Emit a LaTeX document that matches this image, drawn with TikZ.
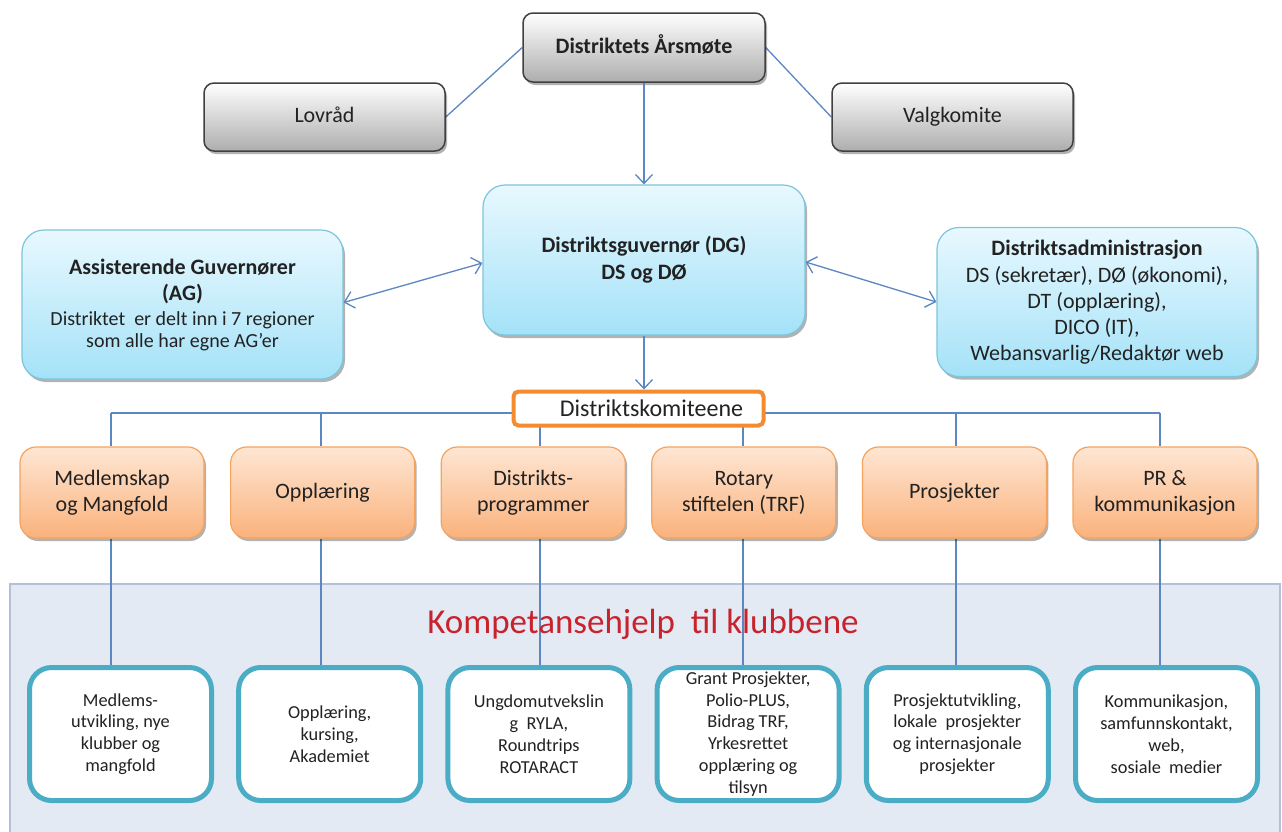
\documentclass[tikz,border=0pt]{standalone}
\usepackage{fontspec}
\setmainfont{Carlito}
\usetikzlibrary{shadows,arrows.meta}
\pgfdeclarelayer{panel}
\pgfdeclarelayer{lines}
\pgfsetlayers{panel,lines,main}
\definecolor{lineblue}{HTML}{5B87C2}
\definecolor{txt}{HTML}{222222}
\definecolor{blueTop}{HTML}{E8F8FE}
\definecolor{blueBot}{HTML}{A4E2F8}
\definecolor{blueEdge}{HTML}{7CC6DD}
\definecolor{orTop}{HTML}{FEE6D3}
\definecolor{orBot}{HTML}{FAB27C}
\definecolor{orEdge}{HTML}{F6A35E}
\definecolor{komEdge}{HTML}{F58B2F}
\definecolor{tealEdge}{HTML}{4BACC6}
\definecolor{panelFill}{HTML}{E4EAF4}
\definecolor{panelEdge}{HTML}{B3C1D8}
\definecolor{redTitle}{HTML}{C8232C}
\begin{document}
\begin{tikzpicture}[x=1pt,y=1pt,
  every node/.style={text=txt, align=center, inner sep=0pt},
  softshadow/.style={drop shadow={shadow xshift=2pt,shadow yshift=-3pt,opacity=0.3,fill=black}},
  graybox/.style={draw=black!75, line width=1.5pt, rounded corners=10pt,
    top color=white, bottom color=black!32, softshadow,
    text height=15pt, text depth=4pt,
    font=\fontsize{22}{26}\selectfont},
  bluebox/.style={draw=blueEdge, line width=1.2pt, rounded corners=22pt,
    top color=blueTop, bottom color=blueBot, softshadow,
    font=\fontsize{22}{26}\selectfont},
  orbox/.style={draw=orEdge, line width=1.2pt, rounded corners=16pt,
    top color=orTop, bottom color=orBot, softshadow,
    minimum width=184pt, minimum height=91pt,
    font=\fontsize{22}{26}\selectfont},
  tealbox/.style={draw=tealEdge, line width=5pt, rounded corners=22pt, fill=white,
    minimum width=182pt, minimum height=133pt,
    font=\fontsize{18.3}{21.8}\selectfont},
  link/.style={draw=lineblue, line width=1.3pt},
  arr/.style={link, -{Straight Barb[length=9pt,width=17pt]}},
  darr/.style={link, {Straight Barb[length=9pt,width=17pt]}-{Straight Barb[length=9pt,width=17pt]}}
]
\useasboundingbox (0,0) rectangle (1282,-831);

% top level
\node[graybox, minimum width=242pt, minimum height=69pt, font=\bfseries\fontsize{22}{26}\selectfont] (ars) at (644,-47.5) {Distriktets Årsmøte};
\node[graybox, minimum width=241pt, minimum height=68pt] (lov) at (324.5,-117) {Lovråd};
\node[graybox, minimum width=241pt, minimum height=68pt] (val) at (952.5,-117) {Valgkomite};

% blue boxes
\node[bluebox, minimum width=322pt, minimum height=150pt, font=\bfseries\fontsize{22}{27}\selectfont] (dg) at (644,-260) {Distriktsguvernør (DG)\\DS og DØ};
\node[bluebox, minimum width=321pt, minimum height=149pt] (ag) at (182.5,-304.5)
  {\textbf{Assisterende Guvernører}\\\textbf{(AG)}\\[-1pt]{\fontsize{20}{22}\selectfont Distriktet~ er delt inn i 7 regioner}\\[-4pt]{\fontsize{20}{22}\selectfont som alle har egne AG’er}};
\node[bluebox, minimum width=320pt, minimum height=149pt] (adm) at (1097,-302)
  {\textbf{Distriktsadministrasjon}\\[1pt]DS (sekretær), DØ (økonomi),\\DT (opplæring),\\DICO (IT),\\Webansvarlig/Redaktør web};

% committees header
\node[draw=komEdge, line width=4pt, rounded corners=5pt, fill=white,
  minimum width=250pt, minimum height=34pt, font=\fontsize{24}{28}\selectfont] (kom) at (638.5,-408.5)
  {\hspace*{26pt}Distriktskomiteene};

% orange committee boxes
\node[orbox] (o1) at (112,-492.5) {Medlemskap\\og Mangfold};
\node[orbox] (o2) at (322.6,-492.5) {Opplæring};
\node[orbox] (o3) at (533.2,-492.5) {Distrikts-\\programmer};
\node[orbox] (o4) at (743.8,-492.5) {Rotary\\stiftelen (TRF)};
\node[orbox] (o5) at (954.4,-492.5) {Prosjekter};
\node[orbox] (o6) at (1165,-492.5) {PR \&\\kommunikasjon};

% panel
\begin{pgfonlayer}{panel}
  \fill[white] (0,0) rectangle (1282,-831);
  \filldraw[fill=panelFill, draw=panelEdge, line width=1.5pt] (10,-840) -- (10,-584) -- (1280,-584) -- (1280,-840);
\end{pgfonlayer}
\node[text=redTitle, font=\fontsize{35}{40}\selectfont] (ktitle) at (643,-624) {Kompetansehjelp~ til klubbene};

% bottom boxes
\node[tealbox] (b1) at (120.5,-734) {Medlems-\\utvikling, nye\\klubber og\\mangfold};
\node[tealbox] (b2) at (329.7,-734) {Opplæring,\\kursing,\\Akademiet};
\node[tealbox] (b3) at (538.9,-734) {Ungdomutvekslin\\g~ RYLA,\\Roundtrips\\ROTARACT};
\node[tealbox] (b4) at (748.1,-734) {Grant Prosjekter,\\Polio-PLUS,\\Bidrag TRF,\\Yrkesrettet\\opplæring og\\tilsyn};
\node[tealbox] (b5) at (957.3,-734) {Prosjektutvikling,\\lokale~ prosjekter\\og internasjonale\\prosjekter};
\node[tealbox] (b6) at (1166.5,-734) {Kommunikasjon,\\samfunnskontakt,\\web,\\sosiale~ medier};

% tree coordinates
\coordinate (t1) at (111,-413);
\coordinate (t2) at (321,-413);
\coordinate (t3) at (540,-413);
\coordinate (t4) at (743,-413);
\coordinate (t5) at (956,-413);
\coordinate (t6) at (1160,-413);

\begin{pgfonlayer}{lines}
  \draw[link] (ars.west) -- (lov.east);
  \draw[link] (ars.east) -- (val.west);
  \draw[link] (t1) -- (t6);
  \foreach \i in {1,...,6}{
    \draw[link] (t\i) -- (t\i |- o\i.north);
    \draw[link] (o\i.south -| t\i) -- (b\i.north -| t\i);
  }
\end{pgfonlayer}

\draw[arr] (ars.south) -- (dg.north);
\draw[arr] (dg.south) -- (dg.south |- kom.north);
\draw[darr] ([yshift=2pt]ag.east) -- ([yshift=-3pt]dg.west);
\draw[darr] ([yshift=-2pt]dg.east) -- ([yshift=0pt]adm.west);
\end{tikzpicture}
\end{document}
